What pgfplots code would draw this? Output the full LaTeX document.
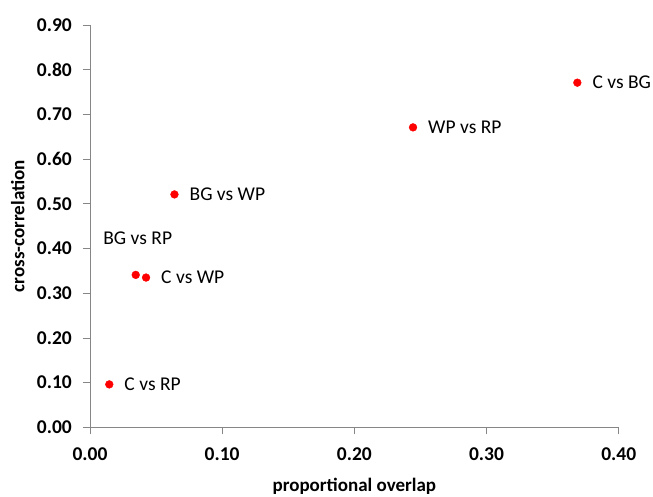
\documentclass[border=0pt]{standalone}
\usepackage{pgfplots}
\pgfplotsset{compat=1.18}
\usepackage{fontspec}
\setmainfont{Carlito}
\definecolor{axgray}{RGB}{134,134,134}
\begin{document}
\begin{tikzpicture}
\path[use as bounding box] (-90pt,-68.7pt) rectangle (563pt,427.3pt);
\begin{axis}[
  at={(0,0)}, anchor=south west,
  scale only axis, width=528.7pt, height=402.3pt,
  xmin=0, xmax=0.4, ymin=0, ymax=0.9,
  xtick={0,0.1,0.2,0.3,0.4},
  ytick={0,0.1,0.2,0.3,0.4,0.5,0.6,0.7,0.8,0.9},
  axis x line*=bottom, axis y line*=left,
  axis line style={axgray, line width=0.8pt},
  tick style={axgray, line width=0.8pt},
  tick align=outside, major tick length=7pt,
  /pgf/number format/assume math mode=true,
  /pgf/number format/.cd, fixed, fixed zerofill, precision=2, /pgfplots/.cd,
  tick label style={font=\bfseries\fontsize{19.5}{22}\selectfont, text=black},
  yticklabel style={anchor=east, inner sep=0pt, xshift=-11pt},
  xticklabel style={anchor=north, inner sep=0pt, yshift=-13.5pt},
  xlabel={proportional overlap}, ylabel={cross-correlation},
  label style={font=\bfseries\fontsize{19}{22}\selectfont, inner sep=0pt},
  xlabel style={at={(axis description cs:0.5,-0.160)}, anchor=base},
  ylabel style={at={(axis description cs:-0.124,0.5)}, anchor=base},
  clip=false,
]
\addplot[only marks, mark=*, mark size=3.9pt, color=red, mark options={draw=red, fill=red},
  nodes near coords, point meta=explicit symbolic,
  every node near coord/.style={anchor=west, inner sep=0pt, xshift=15pt, text=black, font=\fontsize{19.5}{22}\selectfont}]
  table[meta=label] {
x y label
0.0146 0.096 {C vs RP}
0.0424 0.335 {C vs WP}
0.0639 0.521 {BG vs WP}
0.2444 0.671 {WP vs RP}
0.3687 0.771 {C vs BG}
};
\addplot[only marks, mark=*, mark size=3.9pt, color=red, mark options={draw=red, fill=red},
  nodes near coords, point meta=explicit symbolic,
  every node near coord/.style={anchor=base, inner sep=0pt, yshift=30pt, xshift=2pt, text=black, font=\fontsize{19.5}{22}\selectfont}]
  table[meta=label] {
x y label
0.0346 0.341 {BG vs RP}
};
\end{axis}
\end{tikzpicture}
\end{document}
